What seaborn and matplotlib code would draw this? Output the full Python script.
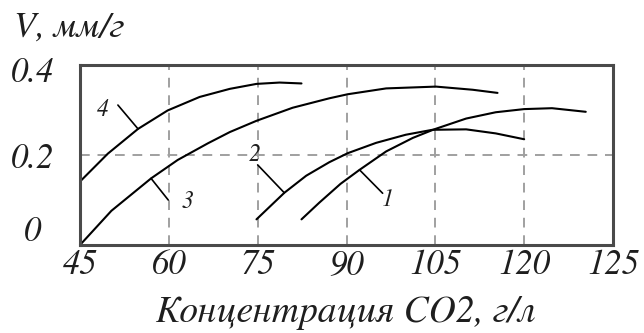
import matplotlib
matplotlib.use("Agg")
import matplotlib.pyplot as plt
import matplotlib.transforms as mtransforms
import pandas as pd
import seaborn as sns

# curve data (x in g/l on the 45..135 scale, V in mm/g)
x1 = [82.4, 85.4, 89.0, 92.2, 96.7, 101.2, 104.8, 110.2, 115.2, 120.0, 124.7, 130.4]
v1 = [0.057, 0.094, 0.136, 0.167, 0.208, 0.238, 0.257, 0.281, 0.295, 0.302, 0.304, 0.296]

x2 = [74.8, 79.5, 83.2, 87.1, 90.2, 95.0, 100.0, 104.5, 110.2, 115.2, 120.0]
v2 = [0.057, 0.116, 0.154, 0.184, 0.204, 0.227, 0.245, 0.256, 0.257, 0.248, 0.235]

x3 = [45.0, 50.3, 57.0, 61.5, 66.6, 70.3, 74.8, 80.9, 87.1, 90.2, 96.7, 105.1, 111.3, 115.5]
v3 = [0.000, 0.076, 0.148, 0.189, 0.226, 0.251, 0.276, 0.305, 0.326, 0.335, 0.348, 0.352, 0.345, 0.338]

x4 = [45.0, 49.7, 54.8, 59.8, 65.2, 70.3, 74.8, 78.7, 82.4]
v4 = [0.141, 0.203, 0.258, 0.299, 0.329, 0.347, 0.358, 0.361, 0.359]

curve_names = ["1", "2", "3", "4"]

# curve numbers with their leader lines: (text x, text y, line x0, y0, x1, y1)
label_pos = {
    "4": (48.9, 0.300, 51.4, 0.311, 54.8, 0.258),
    "3": (63.2, 0.096, 59.9, 0.100, 57.0, 0.148),
    "2": (74.5, 0.200, 75.0, 0.178, 79.5, 0.116),
    "1": (97.0, 0.100, 92.2, 0.167, 96.1, 0.115),
}

x_ticks = [45, 60, 75, 90, 105, 120, 135]
x_ticklabels = ["45", "60", "75", "90", "105", "120", "125"]
y_ticks = [0.0, 0.2, 0.4]
y_ticklabels = ["0", "0.2", "0.4"]

frames = []
for name, xs, vs in zip(curve_names, [x1, x2, x3, x4], [v1, v2, v3, v4]):
    frames.append(pd.DataFrame({"x": xs, "V": vs, "curve": name}))
df = pd.concat(frames, ignore_index=True)

sns.set_style("white")
plt.rcParams["font.family"] = ["STIXGeneral", "Liberation Serif", "DejaVu Serif"]
plt.rcParams["font.style"] = "italic"

TXT = "#1e1e1e"
FS = 25

fig = plt.figure(figsize=(6.44, 3.33), dpi=100)
ax = fig.add_axes([80 / 644, 1 - 245 / 333, 533 / 644, 180 / 333])

sns.lineplot(data=df, x="x", y="V", hue="curve", units="curve", estimator=None,
             sort=False, palette=["black"] * 4, linewidth=1.5, legend=False, ax=ax)

# dashed grid
for gx in x_ticks[1:-1]:
    ax.axvline(gx, color="#a0a0a0", linestyle=(0, (5, 4)), linewidth=1.4, zorder=0)
ax.axhline(0.2, color="#a0a0a0", linestyle=(0, (5, 4)), linewidth=1.4, zorder=0)

# curve numbers
for name in curve_names:
    lx, ly, lx0, ly0, lx1, ly1 = label_pos[name]
    ax.plot([lx0, lx1], [ly0, ly1], color="black", linewidth=1.2)
    ax.text(lx, ly, name, fontsize=17, ha="center", va="center",
            style="italic", color=TXT)

ax.set_xlim(45, 135)
ax.set_ylim(0, 0.4)
ax.set_xticks(x_ticks)
ax.set_xticklabels(x_ticklabels, style="italic", fontsize=FS, color=TXT)
ax.set_yticks(y_ticks)
ax.set_yticklabels(y_ticklabels, style="italic", fontsize=FS, color=TXT)
ax.tick_params(axis="both", length=0)
ax.tick_params(axis="y", pad=34)
ax.tick_params(axis="x", pad=3)
for lab in ax.get_yticklabels():
    lab.set_horizontalalignment("center")
# "0" sits above the axis line, "0.4" a little below the top in the original
ylabs = ax.get_yticklabels()
ylabs[0].set_transform(ylabs[0].get_transform()
                       + mtransforms.ScaledTranslation(0, 17 / 100, fig.dpi_scale_trans))
ylabs[2].set_transform(ylabs[2].get_transform()
                       + mtransforms.ScaledTranslation(0, -4 / 100, fig.dpi_scale_trans))

for sp in ax.spines.values():
    sp.set_visible(True)
    sp.set_color("#4a4a4a")
    sp.set_linewidth(2.2)

ax.set_xlabel("Концентрация CO2, г/л", fontsize=27, style="italic", color=TXT, labelpad=10)
ax.set_ylabel("")
fig.text(14 / 644, 1 - 28 / 333, "V, мм/г", fontsize=26, color=TXT,
         ha="left", va="center", style="italic")

fig.savefig("out.png", dpi=100)
